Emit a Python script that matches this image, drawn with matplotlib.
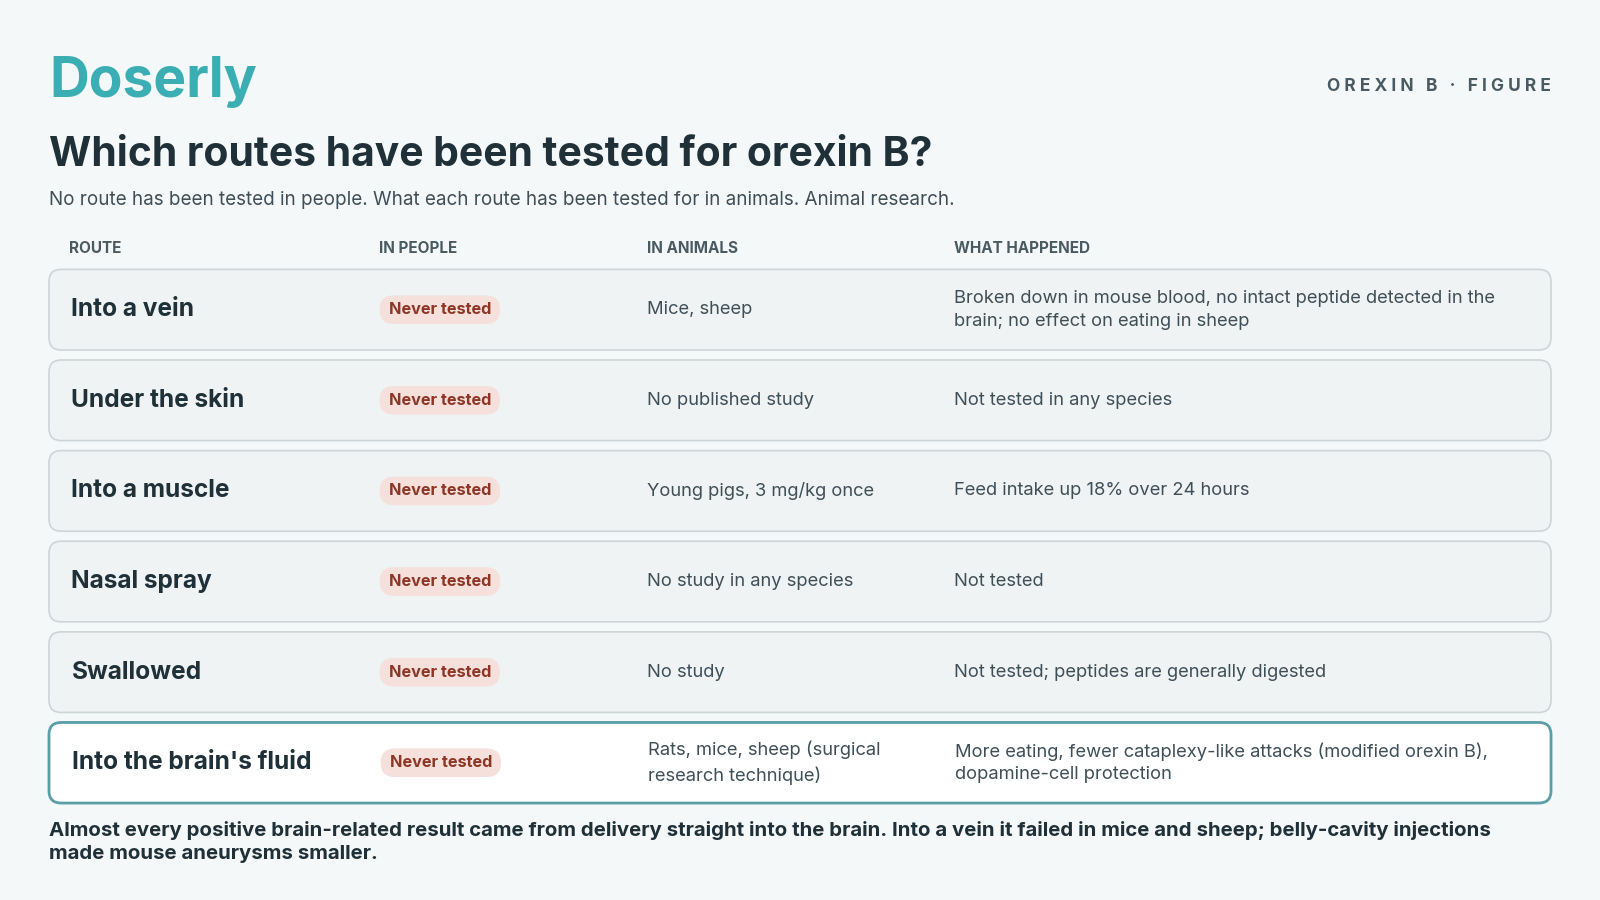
import matplotlib
matplotlib.use("Agg")
import matplotlib.pyplot as plt
from matplotlib.patches import FancyBboxPatch

plt.rcParams['font.family'] = ['Inter', 'DejaVu Sans']

routes = ["Into a vein", "Under the skin", "Into a muscle", "Nasal spray", "Swallowed", "Into the brain's fluid"]
in_people = ["Never tested"] * 6
in_animals = ["Mice, sheep", "No published study", "Young pigs, 3 mg/kg once",
              "No study in any species", "No study", "Rats, mice, sheep (surgical\nresearch technique)"]
what_happened = ["Broken down in mouse blood, no intact peptide detected in the\nbrain; no effect on eating in sheep",
                 "Not tested in any species", "Feed intake up 18% over 24 hours", "Not tested",
                 "Not tested; peptides are generally digested",
                 "More eating, fewer cataplexy-like attacks (modified orexin B),\ndopamine-cell protection"]
headers = ["ROUTE", "IN PEOPLE", "IN ANIMALS", "WHAT HAPPENED"]
highlight = [False, False, False, False, False, True]

W, H = 1568, 882
fig = plt.figure(figsize=(16, 9), dpi=100)
fig.patch.set_facecolor("#f5f8f9")
ax = fig.add_axes([0, 0, 1, 1])
ax.set_xlim(0, W); ax.set_ylim(H, 0); ax.axis("off")

def fs(px):
    return px * 0.72 * 1600 / 1568

dark = "#1f3038"
grey = "#3f4f57"
ax.text(48, 80, "Doserly", fontsize=fs(54), color="#3aaeb3", fontweight="bold", va="center")
ax.text(1520, 85, "O R E X I N  B  ·  F I G U R E".replace("  ", "   "), fontsize=fs(17), color="#4a5a62",
        fontweight="bold", ha="right", va="center")
ax.text(48, 152, "Which routes have been tested for orexin B?", fontsize=fs(40), color=dark, fontweight="bold", va="center")
ax.text(48, 196, "No route has been tested in people. What each route has been tested for in animals. Animal research.",
        fontsize=fs(18.5), color=grey, va="center")

cols = [70, 371, 634, 935]
for c, h in zip(cols, headers):
    ax.text(c - 2 if c == 70 else c, 244, h, fontsize=fs(15), color="#4a5a62", fontweight="bold", va="center")

top0, rh, gap = 264, 79, 88.8
for i, r in enumerate(routes):
    top = top0 + i * gap
    cy = top + rh / 2
    hl = highlight[i]
    ax.add_patch(FancyBboxPatch((48, top), 1472, rh, boxstyle="round,pad=0,rounding_size=12",
                                fc="white" if hl else "#eff3f4", ec="#5a9ea6" if hl else "#cdd5d8",
                                lw=2 if hl else 1.2))
    dx = 1 if hl else 0
    ax.text(cols[0] + dx, cy, r, fontsize=fs(24), color=dark, fontweight="bold", va="center")
    ax.add_patch(FancyBboxPatch((372 + dx, cy - 14), 118, 28, boxstyle="round,pad=0,rounding_size=14",
                                fc="#f5e0db", ec="none"))
    ax.text(431 + dx, cy, in_people[i], fontsize=fs(16), color="#8e3626", fontweight="bold", ha="center", va="center")
    ax.text(cols[2] + dx, cy, in_animals[i], fontsize=fs(18), color=grey, va="center", linespacing=1.45)
    ax.text(cols[3] + dx, cy, what_happened[i], fontsize=fs(18), color=grey, va="center", linespacing=1.45)

ax.text(48, 825, "Almost every positive brain-related result came from delivery straight into the brain. Into a vein it failed in mice and sheep; belly-cavity injections\nmade mouse aneurysms smaller.",
        fontsize=fs(20), color=dark, fontweight="bold", va="center", linespacing=1.4)

fig.savefig("out.png", dpi=100, facecolor=fig.get_facecolor())
